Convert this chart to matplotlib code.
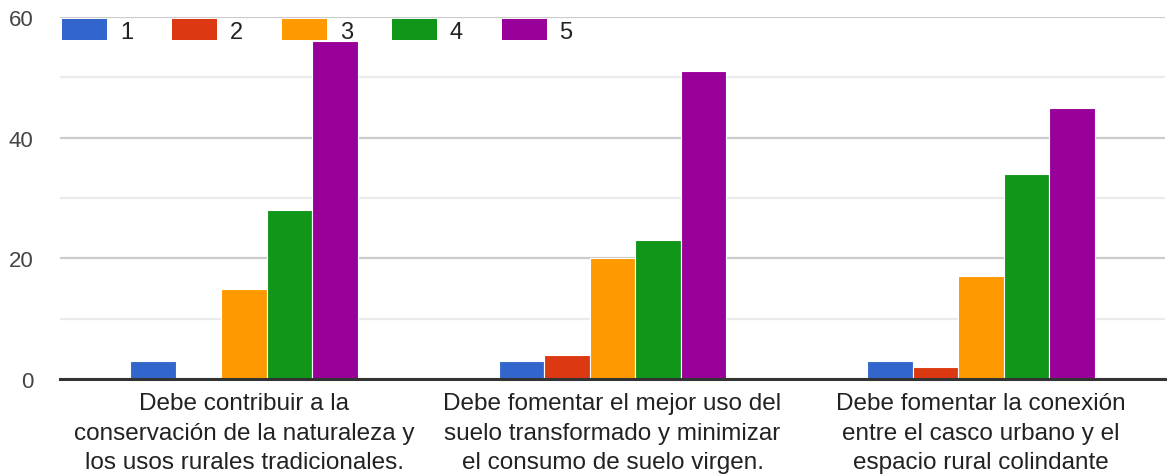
import matplotlib
matplotlib.use("Agg")
import matplotlib.pyplot as plt
import numpy as np
from matplotlib.patches import Patch

categories = [
    "Debe contribuir a la\nconservación de la naturaleza y\nlos usos rurales tradicionales.",
    "Debe fomentar el mejor uso del\nsuelo transformado y minimizar\nel consumo de suelo virgen.",
    "Debe fomentar la conexión\nentre el casco urbano y el\nespacio rural colindante",
]
series_names = ["1", "2", "3", "4", "5"]
s1 = [3, 3, 3]
s2 = [0, 4, 2]
s3 = [15, 20, 17]
s4 = [28, 23, 34]
s5 = [56, 51, 45]
series = [s1, s2, s3, s4, s5]
colors = ["#3366cc", "#dc3912", "#ff9900", "#109618", "#990099"]
yticks = [0, 20, 40, 60]

plt.rcParams['font.family'] = ['Liberation Sans', 'DejaVu Sans']

W, H = 1167, 477
fig = plt.figure(figsize=(W / 100, H / 100), dpi=100)
ax = fig.add_axes([60 / W, 1 - 380 / H, (1165 - 60) / W, (380 - 18) / H])

x = np.arange(len(categories))
bw = 0.618 / 5
for i, (vals, c) in enumerate(zip(series, colors)):
    ax.bar(x + (i - 2) * bw, vals, width=bw, color=c, edgecolor="white",
           linewidth=0.8, zorder=3)

ax.set_ylim(0, 60)
ax.set_xlim(-0.5, 2.5)
ax.set_yticks(yticks)
ax.set_yticks([10, 30, 50], minor=True)
ax.grid(axis="y", which="major", color="#cccccc", linewidth=1.6, zorder=0)
ax.grid(axis="y", which="minor", color="#ebebeb", linewidth=1.6, zorder=0)
ax.tick_params(axis="y", which="both", length=0, pad=19, labelsize=16, labelcolor="#444444")
ax.set_xticks(x)
ax.set_xticklabels(categories, fontsize=17.5, color="#222222", linespacing=1.44)
ax.tick_params(axis="x", length=0, pad=9.5)
for s in ["top", "right", "left"]:
    ax.spines[s].set_visible(False)
ax.spines["bottom"].set_color("#333333")
ax.spines["bottom"].set_linewidth(2.2)
ax.spines["bottom"].set_zorder(5)

handles = [Patch(facecolor=c, edgecolor="none") for c in colors]
fig.legend(handles, series_names, loc="upper left",
           bbox_to_anchor=(62 / W, 1 - 20 / H), ncol=5, frameon=False,
           fontsize=17, handlelength=1.9, handleheight=0.99,
           handletextpad=0.55, columnspacing=1.65, borderpad=0, borderaxespad=0,
           labelcolor="#222222")

fig.savefig("out.png", dpi=100)
